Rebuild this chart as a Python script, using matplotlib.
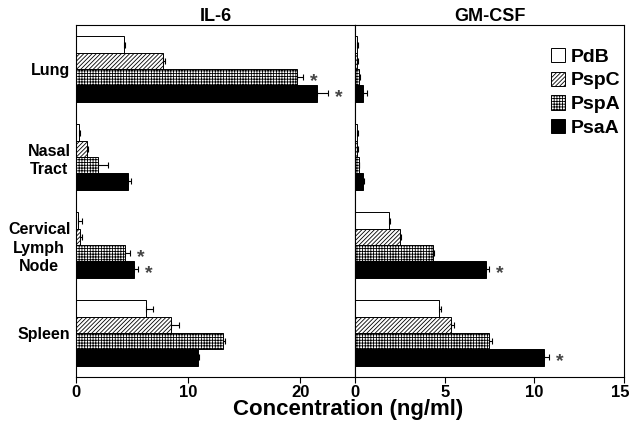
import matplotlib.pyplot as plt
import matplotlib.transforms as mtransforms
from matplotlib.patches import Patch
import numpy as np

plt.rcParams['font.family'] = ['Liberation Sans', 'DejaVu Sans']
plt.rcParams['font.weight'] = 'bold'
plt.rcParams['hatch.linewidth'] = 0.6

tissues = ['Lung', 'Nasal\nTract', 'Cervical\nLymph\nNode', 'Spleen']
antigens = ['PdB', 'PspC', 'PspA', 'PsaA']

# IL-6 (ng/ml), one list per antigen, order = tissues
il6 = {
    'PdB':  [4.29, 0.27, 0.15, 6.22],
    'PspC': [7.8, 1.0, 0.36, 8.45],
    'PspA': [19.76, 1.96, 4.4, 13.1],
    'PsaA': [21.49, 4.67, 5.2, 10.87],
}
il6_err = {
    'PdB':  [0.1, 0.1, 0.38, 0.68],
    'PspC': [0.1, 0.05, 0.18, 0.74],
    'PspA': [0.54, 0.92, 0.42, 0.24],
    'PsaA': [0.98, 0.21, 0.3, 0.14],
}
il6_star = {'PspA': [0, 2], 'PsaA': [0, 2]}

# GM-CSF (ng/ml)
gmcsf = {
    'PdB':  [0.13, 0.1, 1.92, 4.67],
    'PspC': [0.1, 0.1, 2.51, 5.35],
    'PspA': [0.2, 0.2, 4.34, 7.47],
    'PsaA': [0.47, 0.43, 7.3, 10.52],
}
gmcsf_err = {
    'PdB':  [0.05, 0.05, 0.05, 0.1],
    'PspC': [0.05, 0.05, 0.05, 0.15],
    'PspA': [0.1, 0.05, 0.05, 0.15],
    'PsaA': [0.19, 0.05, 0.15, 0.3],
}
gmcsf_star = {'PsaA': [2, 3]}

styles = {
    'PdB':  dict(facecolor='white', hatch=None),
    'PspC': dict(facecolor='white', hatch='////////'),
    'PspA': dict(facecolor='white', hatch='++++++'),
    'PsaA': dict(facecolor='black', hatch=None),
}

h = 0.185
y = np.arange(len(tissues))

fig = plt.figure(figsize=(6.32, 4.21), dpi=100)
ax1 = fig.add_axes([0.1203, 0.1045, 0.4414, 0.836])
ax2 = fig.add_axes([0.5617, 0.1045, 0.4258, 0.836])


def draw(ax, vals, errs, stars):
    for i, ag in enumerate(antigens):
        pos = y + (i - 1.5) * h
        ax.barh(pos, vals[ag], height=h, edgecolor='black', linewidth=0.7,
                **styles[ag])
        ax.errorbar(vals[ag], pos, xerr=[np.zeros(len(tissues)), errs[ag]],
                    fmt='none', ecolor='black', elinewidth=0.8, capsize=2.5,
                    capthick=0.8)
        for k in stars.get(ag, []):
            ax.annotate('*', (vals[ag][k] + errs[ag][k], pos[k]),
                        xytext=(5, -3), textcoords='offset points',
                        ha='left', va='center', fontsize=14, color='#444444')
    ax.set_ylim(3.5, -0.5)
    ax.tick_params(axis='x', labelsize=12, length=4, width=0.8, pad=1.5)
    for s in ax.spines.values():
        s.set_linewidth(0.8)


draw(ax1, il6, il6_err, il6_star)
draw(ax2, gmcsf, gmcsf_err, gmcsf_star)

ax1.set_xlim(0, 24.9)
ax1.set_xticks([0, 10, 20])
ax1.set_yticks(y)
ax1.set_yticklabels(tissues, fontsize=11.5, linespacing=1.3,
                    multialignment='center')
ax1.tick_params(axis='y', length=0, pad=4)
ax1.set_title('IL-6', fontsize=13, fontweight='bold', pad=2)

ax2.set_xlim(0, 15)
ax2.set_xticks([0, 5, 10, 15])
ax2.set_yticks([])
ax2.set_title('GM-CSF', fontsize=13, fontweight='bold', pad=2)
# nudge the last tick label a few pixels left so it stays inside the figure
lbl = ax2.get_xticklabels()[-1]
lbl.set_transform(lbl.get_transform() +
                  mtransforms.ScaledTranslation(-4 / 100, 0, fig.dpi_scale_trans))

handles = [Patch(edgecolor='black', linewidth=0.7, **styles[a]) for a in antigens]
ax2.legend(handles, antigens, loc='upper right', bbox_to_anchor=(1.05, 0.985),
           frameon=False, fontsize=14, handlelength=0.75, handleheight=0.75,
           handletextpad=0.25, labelspacing=0.3)

fig.text(0.551, 0.003, 'Concentration (ng/ml)', ha='center', va='bottom',
         fontsize=16, fontweight='bold')

fig.savefig('out.png', dpi=100)
